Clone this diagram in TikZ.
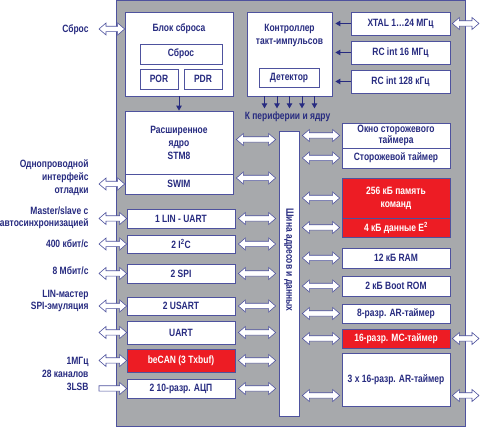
\documentclass[tikz,border=0pt]{standalone}
\usepackage{fontspec}
\setmainfont{Liberation Sans}[FakeStretch=0.8]
\usetikzlibrary{arrows.meta,calc}

\definecolor{navy}{HTML}{272B80}
\definecolor{panel}{HTML}{A7A9AC}
\definecolor{chipred}{HTML}{ED1C24}
\definecolor{edge}{HTML}{4E529E}

\begin{document}
\begin{tikzpicture}[x=1pt,y=-1pt,
    font=\fontsize{10.6}{13}\selectfont\bfseries, text=navy,
    blk/.style={draw=edge,fill=white,line width=0.7pt,inner sep=0pt,align=center},
    redblk/.style={blk,fill=chipred,text=white},
    lbl/.style={anchor=east,align=right},
    sig/.style={draw=navy,line width=1pt,-{Triangle[length=5pt,width=5.5pt]}},
    bidir/.style={draw=edge,fill=white,line width=0.6pt,
      to path={let \p1=(\tikztostart),\p2=(\tikztotarget) in
        (\x1,\y1) -- (\x1+7pt,\y1+6pt) -- (\x1+7pt,\y1+2.7pt) -- (\x2-7pt,\y1+2.7pt)
        -- (\x2-7pt,\y1+6pt) -- (\x2,\y1) -- (\x2-7pt,\y1-6pt) -- (\x2-7pt,\y1-2.7pt)
        -- (\x1+7pt,\y1-2.7pt) -- (\x1+7pt,\y1-6pt) -- cycle}},
    unidir/.style={draw=edge,fill=white,line width=0.6pt,
      to path={let \p1=(\tikztostart),\p2=(\tikztotarget) in
        (\x1,\y1+2.7pt) -- (\x2-7pt,\y1+2.7pt) -- (\x2-7pt,\y1+6pt) -- (\x2,\y1)
        -- (\x2-7pt,\y1-6pt) -- (\x2-7pt,\y1-2.7pt) -- (\x1,\y1-2.7pt) -- cycle}}]
  \useasboundingbox (0,0) rectangle (480,427);

  % chip body
  \filldraw[fill=panel,draw=edge,line width=0.8pt] (116,0) rectangle (465,426);

  % reset and core
  \node[blk,minimum width=108,minimum height=84] (rstblk) at (179,54) {};
  \node (rsttitle) at (179,29) {Блок сброса};
  \node[blk,minimum width=82,minimum height=20] (rst) at (181,54) {Сброс};
  \node[blk,minimum width=38,minimum height=20] (por) at (159,79) {POR};
  \node[blk,minimum width=38,minimum height=20] (pdr) at (203,79) {PDR};
  \node[blk,minimum width=108,minimum height=63] (core) at (179,142.5) {Расширенное\\ядро\\STM8};
  \node[blk,minimum width=108,minimum height=20] (swim) at (179,184) {SWIM};

  % clock
  \node[blk,minimum width=85,minimum height=84] (clk) at (289.5,54) {};
  \node[align=center] (clktitle) at (289.5,35.5) {Контроллер\\такт-импульсов};
  \node[blk,minimum width=60,minimum height=19] (det) at (289,77.5) {Детектор};
  \node[blk,minimum width=99,minimum height=23] (xtal) at (400.5,23.5) {XTAL 1…24 МГц};
  \node[blk,minimum width=99,minimum height=23] (rc16) at (400.5,52.5) {RC int 16 МГц};
  \node[blk,minimum width=99,minimum height=23] (rc128) at (400.5,81.5) {RC int 128 кГц};
  \node (periph) at (287.5,117) {К периферии и ядру};

  % bus
  \node[blk,minimum width=20,minimum height=285] (bus) at (289,273.5) {};
  \node[rotate=-90] (buslbl) at (289,260) {Шина адресов и данных};

  % right column
  \node[blk,minimum width=108,minimum height=25] (wwdg) at (396,135.5) {Окно сторожевого\\[-2pt]таймера};
  \node[blk,minimum width=108,minimum height=20] (iwdg) at (396,158) {Сторожевой таймер};
  \node[redblk,minimum width=108,minimum height=40] (flash) at (396,198) {256 кБ память\\команд};
  \node[redblk,minimum width=108,minimum height=19] (eeprom) at (396,227.5) {4 кБ данные E\textsuperscript{2}};
  \node[blk,minimum width=108,minimum height=20] (ram) at (396,258) {12 кБ RAM};
  \node[blk,minimum width=108,minimum height=20] (brom) at (396,286) {2 кБ Boot ROM};
  \node[blk,minimum width=108,minimum height=19] (tim8) at (396,313.5) {8-разр. AR-таймер};
  \node[redblk,minimum width=108,minimum height=19] (mctim) at (396,338.5) {16-разр. MC-таймер};
  \node[blk,minimum width=108,minimum height=53] (artim) at (396,379.5) {3 x 16-разр. AR-таймер};
  \coordinate (areast) at ([yshift=-16pt]artim.east);
  \coordinate (arwest) at ([yshift=-16pt]artim.west);

  % left column
  \node[blk,minimum width=108,minimum height=19] (lin) at (181,218.5) {1 LIN - UART};
  \node[blk,minimum width=108,minimum height=18] (i2c) at (181,244) {2 I\textsuperscript{2}C};
  \node[blk,minimum width=108,minimum height=19] (spi) at (181,273.5) {2 SPI};
  \node[blk,minimum width=108,minimum height=18] (usart) at (181,306) {2 USART};
  \node[blk,minimum width=108,minimum height=23] (uart) at (181,332.5) {UART};
  \node[redblk,minimum width=108,minimum height=23] (can) at (181,360.5) {beCAN (3 Txbuf)};
  \node[blk,minimum width=108,minimum height=19] (adc) at (181,388.5) {2 10-разр. АЦП};

  % outside labels
  \node[lbl] (lrst) at (92,30) {Сброс};
  \node[lbl] (lswim) at (92,177.5) {Однопроводной\\интерфейс\\отладки};
  \node[lbl] (llin) at (92,217.5) {Master/slave с\\[-1pt]автосинхронизацией};
  \node[lbl] (li2c) at (92,244) {400 кбит/с};
  \node[lbl] (lspi) at (92,271) {8 Мбит/с};
  \node[lbl] (lusart) at (92,301) {LIN-мастер\\[-1pt]SPI-эмуляция};
  \node[lbl] (ladc) at (92,374) {1МГц\\28 каналов\\3LSB};

  \coordinate (lx) at (99,0);
  \coordinate (rx) at (479,0);

  % thin signal arrows
  \draw[sig] (rstblk.south) -- (core.north);
  \foreach \dx in {-25,-12.5,0,12.5,25}
    \draw[sig] ([xshift=\dx pt]clk.south) -- ++(0,12);
  \foreach \src in {xtal,rc16,rc128}
    \draw[sig] (\src.west) -- ([xshift=3pt]clk.east |- \src.west);

  % external connections
  \draw[bidir] (lx |- rsttitle) to (rstblk.west |- rsttitle);
  \foreach \blk in {swim,lin,i2c,spi,usart,uart,can}
    \draw[bidir] (lx |- \blk.west) to (\blk.west);
  \draw[unidir] (lx |- adc.west) to (adc.west);
  \draw[bidir] ([xshift=2pt]xtal.east) to (rx |- xtal.east);
  \draw[bidir] ([xshift=2pt]mctim.east) to (rx |- mctim.east);
  \draw[bidir] ([xshift=2pt]areast) to (rx |- areast);

  % bus connections
  \draw[bidir] ([xshift=3pt,yshift=3pt]core.east) to ([xshift=-3pt,yshift=3pt]bus.west |- core.east);
  \draw[bidir] ([xshift=3pt,yshift=6pt]swim.east) to ([xshift=-3pt,yshift=6pt]bus.west |- swim.east);
  \foreach \blk in {lin,i2c,spi,usart,uart,can,adc}
    \draw[bidir] ([xshift=3pt]\blk.east) to ([xshift=-3pt]bus.west |- \blk.east);
  \foreach \blk in {wwdg,iwdg,flash,eeprom,ram,brom,tim8,mctim}
    \draw[bidir] ([xshift=3pt]bus.east |- \blk.west) to ([xshift=-2pt]\blk.west);
  \draw[bidir] ([xshift=3pt]bus.east |- arwest) to ([xshift=-2pt]arwest);
\end{tikzpicture}
\end{document}
